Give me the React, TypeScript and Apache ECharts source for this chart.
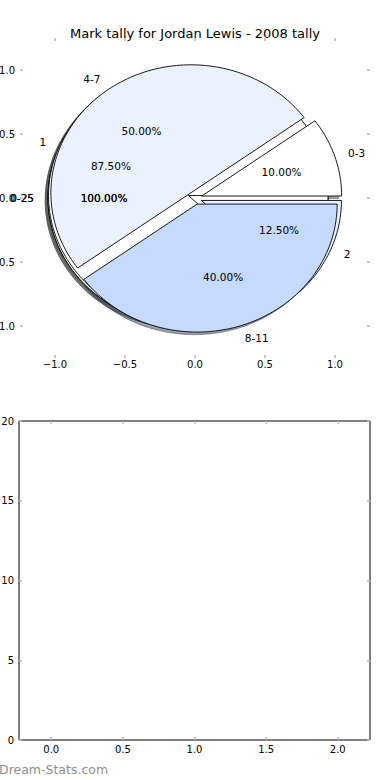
import React, { useEffect, useRef } from 'react';
import * as echarts from 'echarts';

const chartTitle = 'Mark tally for Jordan Lewis - 2008 tally';
const pieALabels = ['0-3', '4-7', '8-11'];
const pieAValues = [1, 5, 4];
const pieBLabels = ['1', '2'];
const pieBValues = [7, 1];
const pieCLabels = ['0-25'];
const pieCValues = [1];
const pieDLabels = ['0-25'];
const pieDValues = [1];
const sliceColors = ['#ffffff', '#eaf1ff', '#c6d9ff'];
const pieTicks = [-1, -0.5, 0, 0.5, 1];
const barXTicks = [0, 0.5, 1, 1.5, 2];
const barYTicks = [0, 5, 10, 15, 20];
const watermark = 'Dream-Stats.com';

const FONT = 'DejaVu Sans';
const EXPLODE = 0.05;

type Slice = { label: string; t1: number; t2: number; pct: number; color: string };

function buildSlices(labels: string[], values: number[]): Slice[] {
  const total = values.reduce((a, b) => a + b, 0);
  let acc = 0;
  return labels.map((l, i) => {
    const t1 = (acc / total) * 360;
    acc += values[i];
    const t2 = (acc / total) * 360;
    return { label: l, t1, t2, pct: (values[i] / total) * 100, color: sliceColors[i % sliceColors.length] };
  });
}

const pieD = buildSlices(pieDLabels, pieDValues);
const pieC = buildSlices(pieCLabels, pieCValues);
const pieB = buildSlices(pieBLabels, pieBValues);
const pieA = buildSlices(pieALabels, pieAValues);
const allSlices = [...pieD, ...pieC, ...pieB, ...pieA];

function shadowColor(hex: string) {
  const r = parseInt(hex.slice(1, 3), 16) * 0.3;
  const g = parseInt(hex.slice(3, 5), 16) * 0.3;
  const b = parseInt(hex.slice(5, 7), 16) * 0.3;
  return `rgba(${Math.round(r)},${Math.round(g)},${Math.round(b)},0.5)`;
}

function wedgePoints(api: any, s: Slice, ox: number, oy: number) {
  const mid = (((s.t1 + s.t2) / 2) * Math.PI) / 180;
  const cx = EXPLODE * Math.cos(mid) + ox;
  const cy = EXPLODE * Math.sin(mid) + oy;
  const pts: number[][] = [];
  const full = s.t2 - s.t1 >= 359.999;
  if (!full) pts.push(api.coord([cx, cy]));
  const n = Math.max(8, Math.ceil((s.t2 - s.t1) / 1.5));
  for (let i = 0; i <= n; i++) {
    const a = ((s.t1 + ((s.t2 - s.t1) * i) / n) * Math.PI) / 180;
    pts.push(api.coord([cx + Math.cos(a), cy + Math.sin(a)]));
  }
  return pts;
}

function wedgeSeries(slices: Slice[], shadow: boolean, z: number) {
  return {
    type: 'custom',
    xAxisIndex: 0,
    yAxisIndex: 0,
    z,
    silent: true,
    data: slices.map((s) => [s.t1, s.t2]),
    renderItem: (params: any, api: any) => {
      const s = slices[params.dataIndex];
      const pts = wedgePoints(api, s, shadow ? -0.02 : 0, shadow ? -0.02 : 0);
      if (shadow) {
        const c = shadowColor(s.color);
        return { type: 'polygon', shape: { points: pts }, style: { fill: c, stroke: c, lineWidth: 1 } };
      }
      return {
        type: 'polygon',
        shape: { points: pts },
        style: { fill: s.color, stroke: '#000', lineWidth: 0.9, lineJoin: 'miter' },
      };
    },
  };
}

function labelSeries(slices: Slice[], z: number) {
  return {
    type: 'custom',
    xAxisIndex: 0,
    yAxisIndex: 0,
    z,
    silent: true,
    data: slices.map((s) => [s.t1, s.t2]),
    renderItem: (params: any, api: any) => {
      const s = slices[params.dataIndex];
      const mid = (((s.t1 + s.t2) / 2) * Math.PI) / 180;
      const ex = EXPLODE * Math.cos(mid);
      const ey = EXPLODE * Math.sin(mid);
      const lx = ex + 1.1 * Math.cos(mid);
      const ly = ey + 1.1 * Math.sin(mid);
      const px = ex + 0.6 * Math.cos(mid);
      const py = ey + 0.6 * Math.sin(mid);
      const lp = api.coord([lx, ly]);
      const pp = api.coord([px, py]);
      return {
        type: 'group',
        children: [
          {
            type: 'text',
            x: lp[0],
            y: lp[1],
            style: {
              text: s.label,
              fill: '#000',
              fontSize: 10.5,
              fontFamily: FONT,
              align: lx > 0 ? 'left' : 'right',
              verticalAlign: 'middle',
            },
          },
          {
            type: 'text',
            x: pp[0],
            y: pp[1],
            style: {
              text: s.pct.toFixed(2) + '%',
              fill: '#000',
              fontSize: 10.5,
              fontFamily: FONT,
              align: 'center',
              verticalAlign: 'middle',
            },
          },
        ],
      };
    },
  };
}

const fmt1 = (v: number) => v.toFixed(1).replace('-', '\u2212');
const tickStyle = { color: '#b8b8b8', width: 1.5 };

function xAx(grid: number, min: number, max: number, pos: 'top' | 'bottom', ticks: number[], labels: boolean, margin: number) {
  return {
    gridIndex: grid,
    type: 'value',
    min,
    max,
    position: pos,
    axisLine: { show: false, onZero: false },
    splitLine: { show: false },
    axisTick: { show: true, inside: true, length: 3, lineStyle: tickStyle, customValues: ticks },
    axisLabel: {
      show: labels,
      customValues: ticks,
      formatter: fmt1,
      fontSize: 10,
      color: '#000',
      fontFamily: FONT,
      margin,
    },
  };
}

function yAx(grid: number, min: number, max: number, pos: 'left' | 'right', ticks: number[], labels: boolean, fmt: (v: number) => string) {
  return {
    gridIndex: grid,
    type: 'value',
    min,
    max,
    position: pos,
    axisLine: { show: false, onZero: false },
    splitLine: { show: false },
    axisTick: { show: true, inside: true, length: 3, lineStyle: tickStyle, customValues: ticks },
    axisLabel: {
      show: labels,
      customValues: ticks,
      formatter: fmt,
      fontSize: 10,
      color: '#000',
      fontFamily: FONT,
      margin: 5,
    },
  };
}

export default function App() {
  const ref = useRef<HTMLDivElement>(null);
  useEffect(() => {
    if (!ref.current) return;
    const chart = echarts.init(ref.current, undefined, { renderer: 'svg' });
    chart.setOption({
      animation: false,
      backgroundColor: '#ffffff',
      title: {
        text: chartTitle,
        left: 'center',
        top: 22,
        textStyle: { fontSize: 13, fontWeight: 'normal', color: '#000', fontFamily: FONT },
      },
      grid: [
        { left: 20, top: 38, width: 350, height: 320, show: false, outerBoundsMode: 'none', containLabel: false },
        {
          left: 19,
          top: 421,
          width: 351,
          height: 319,
          show: true,
          borderColor: '#000',
          borderWidth: 1,
          backgroundColor: 'transparent',
          outerBoundsMode: 'none',
          containLabel: false,
        },
      ],
      xAxis: [
        xAx(0, -1.25, 1.25, 'bottom', pieTicks, true, 1),
        xAx(0, -1.25, 1.25, 'top', pieTicks, false, 1),
        xAx(1, -0.225, 2.225, 'bottom', barXTicks, true, 4),
        xAx(1, -0.225, 2.225, 'top', barXTicks, false, 4),
      ],
      yAxis: [
        yAx(0, -1.25, 1.25, 'left', pieTicks, true, fmt1),
        yAx(0, -1.25, 1.25, 'right', pieTicks, false, fmt1),
        yAx(1, 0, 20, 'left', barYTicks, true, (v: number) => String(v)),
        yAx(1, 0, 20, 'right', barYTicks, false, (v: number) => String(v)),
      ],
      graphic: [
        {
          type: 'text',
          left: -1,
          top: 763,
          style: { text: watermark, fill: '#8f8f8f', fontSize: 12.5, fontFamily: FONT },
        },
      ],
      series: [
        wedgeSeries(allSlices, true, 1),
        wedgeSeries(pieD, false, 2),
        wedgeSeries(pieC, false, 3),
        wedgeSeries(pieB, false, 4),
        wedgeSeries(pieA, false, 5),
        labelSeries(allSlices, 10),
      ],
    });
    return () => chart.dispose();
  }, []);
  return <div ref={ref} style={{ position: 'absolute', left: 0, top: 0, width: 390, height: 780 }} />;
}
